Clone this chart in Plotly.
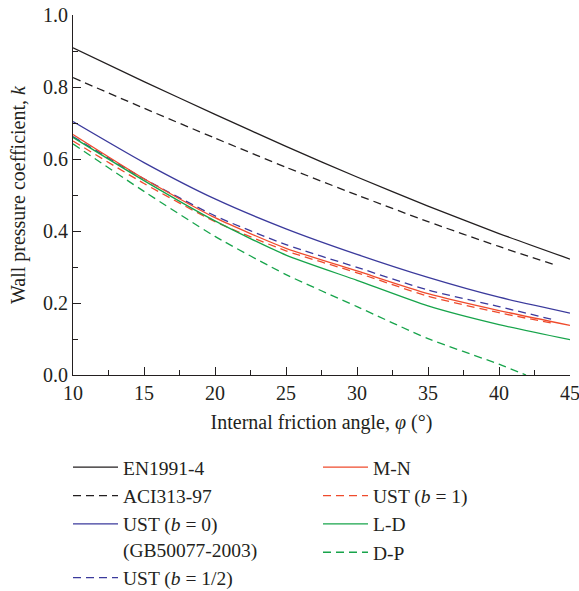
import plotly.graph_objects as go

phi = [10, 15, 20, 25, 30, 35, 40, 45]
phi_44 = [10, 15, 20, 25, 30, 35, 40, 44]
phi_dp = [10, 15, 20, 25, 30, 35, 40, 41.9]

en1991 = [0.909, 0.815, 0.724, 0.635, 0.550, 0.469, 0.393, 0.322]
aci313 = [0.826, 0.741, 0.658, 0.577, 0.500, 0.426, 0.357, 0.305]
ust_b0 = [0.704, 0.590, 0.489, 0.406, 0.335, 0.271, 0.216, 0.172]
ust_b05 = [0.662, 0.545, 0.442, 0.362, 0.299, 0.236, 0.190, 0.152]
mn = [0.668, 0.545, 0.437, 0.352, 0.289, 0.226, 0.179, 0.138]
ust_b1 = [0.650, 0.532, 0.426, 0.345, 0.284, 0.219, 0.173, 0.142]
ld = [0.660, 0.540, 0.428, 0.333, 0.263, 0.192, 0.140, 0.098]
dp = [0.642, 0.510, 0.385, 0.279, 0.190, 0.101, 0.030, 0.0]

BLACK = "#231f20"
BLUE = "#3b3a9c"
RED = "#ef4b2c"
GREEN = "#17a44b"
FONT = "Liberation Serif"
FS = 20
DASH = "8px,5px"

series = [
    ("EN1991-4", phi, en1991, BLACK, "solid", "legend"),
    ("ACI313-97", phi_44, aci313, BLACK, DASH, "legend"),
    ("UST (<i>b</i> = 0)<br>(GB50077-2003)", phi, ust_b0, BLUE, "solid", "legend"),
    ("UST (<i>b</i> = 1/2)", phi_44, ust_b05, BLUE, DASH, "legend"),
    ("M-N", phi, mn, RED, "solid", "legend2"),
    ("UST (<i>b</i> = 1)", phi_44, ust_b1, RED, DASH, "legend2"),
    ("L-D", phi, ld, GREEN, "solid", "legend2"),
    ("D-P", phi_dp, dp, GREEN, DASH, "legend2"),
]

fig = go.Figure()
for name, xs, ys, color, dash, lg in series:
    fig.add_trace(go.Scatter(
        x=xs, y=ys, mode="lines", name=name, legend=lg,
        line=dict(color=color, width=1.3, dash=dash, shape="spline", smoothing=0.6),
    ))

axis_common = dict(
    showline=True, linecolor=BLACK, linewidth=1, mirror=False,
    ticks="inside", ticklen=8, tickwidth=1, tickcolor=BLACK,
    showgrid=False, zeroline=False, ticklabeloverflow="allow",
    tickfont=dict(family=FONT, size=FS, color=BLACK),
)

legend_common = dict(
    xref="container", yref="container", yanchor="top", xanchor="left",
    orientation="v", valign="top", tracegroupgap=0,
    font=dict(family=FONT, size=19.5, color=BLACK),
    bgcolor="rgba(0,0,0,0)", itemwidth=45,
)

fig.update_layout(
    width=579, height=591,
    margin=dict(l=73, r=9, t=15, b=216, autoexpand=False),
    paper_bgcolor="white", plot_bgcolor="white",
    font=dict(family=FONT, size=FS, color=BLACK),
    xaxis=dict(range=[10, 45], dtick=5, tick0=10,
               minor=dict(dtick=2.5, ticks="inside", ticklen=5, tickcolor=BLACK),
               title=dict(text="Internal friction angle, <i>φ</i> (°)", standoff=11,
                          font=dict(family=FONT, size=FS, color=BLACK)),
               **axis_common),
    yaxis=dict(range=[0, 1.0], dtick=0.2, tick0=0, tickformat=".1f",
               minor=dict(dtick=0.1, ticks="inside", ticklen=5, tickcolor=BLACK),
               **axis_common),
    annotations=[dict(
        text="Wall pressure coefficient, <i>k</i>", textangle=-90,
        xref="paper", yref="paper", x=(18 - 73) / 497, y=0.5,
        xanchor="center", yanchor="middle", showarrow=False,
        font=dict(family=FONT, size=FS, color=BLACK),
    )],
    legend=dict(x=68 / 579, y=(591 - 448) / 591, **legend_common),
    legend2=dict(x=318 / 579, y=(591 - 448) / 591, **legend_common),
    showlegend=True,
)

fig.write_html("out.html")
